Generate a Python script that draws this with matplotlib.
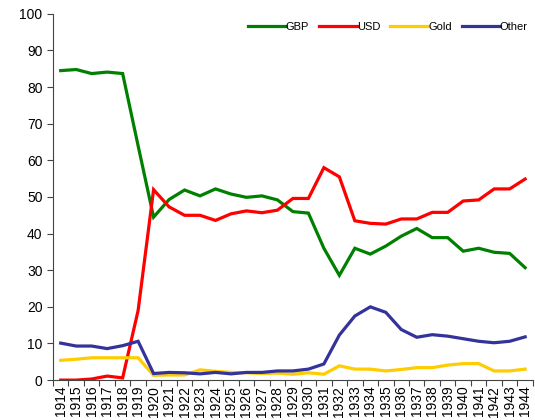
import numpy as np
import matplotlib.pyplot as plt

plt.rcParams['font.family'] = ['Liberation Sans', 'DejaVu Sans']

years = [str(y) for y in range(1914, 1945)]

gbp = [84.5, 84.8, 83.7, 84.1, 83.7, 64.0, 44.5, 49.3, 51.9, 50.3, 52.2, 50.8, 49.9, 50.3, 49.2, 46.0,
       45.6, 36.0, 28.6, 36.0, 34.4, 36.6, 39.3, 41.4, 38.9, 38.9, 35.2, 36.0, 34.9, 34.6, 30.7]
usd = [0.0, 0.0, 0.3, 1.1, 0.6, 19.0, 52.0, 47.3, 45.0, 45.0, 43.6, 45.4, 46.2, 45.7, 46.4, 49.6,
       49.6, 58.0, 55.5, 43.5, 42.8, 42.6, 44.0, 44.0, 45.8, 45.8, 48.9, 49.2, 52.2, 52.2, 54.9]
gold = [5.4, 5.7, 6.1, 6.1, 6.1, 6.1, 1.3, 1.4, 1.4, 2.8, 2.4, 2.1, 2.0, 1.8, 1.9, 1.6,
        2.0, 1.6, 3.9, 3.0, 3.0, 2.5, 2.9, 3.4, 3.4, 4.1, 4.5, 4.5, 2.5, 2.5, 3.0]
other = [10.1, 9.3, 9.3, 8.6, 9.4, 10.6, 1.8, 2.1, 2.0, 1.7, 2.1, 1.7, 2.1, 2.1, 2.5, 2.5,
         3.0, 4.4, 12.3, 17.5, 20.0, 18.5, 13.8, 11.7, 12.4, 12.0, 11.3, 10.6, 10.2, 10.6, 11.8]

series = [("GBP", gbp, "#008000"), ("USD", usd, "#FF0000"),
          ("Gold", gold, "#FFCC00"), ("Other", other, "#333399")]

fig = plt.figure(figsize=(5.35, 4.2), dpi=100)
ax = fig.add_axes([0.099, 0.095, 0.897, 0.872])

x = np.arange(len(years))
for name, vals, col in series:
    ax.plot(x, vals, color=col, lw=2.3, label=name, solid_joinstyle='miter')

ax.set_xlim(-0.5, len(years) - 0.5)
ax.set_ylim(0, 100)
ax.set_yticks(np.arange(0, 101, 10))
ax.set_xticks(x)
ax.set_xticklabels(years, rotation=90, fontsize=10)
ax.set_xticks(np.arange(-0.5, len(years), 1), minor=True)
ax.tick_params(axis='x', which='major', length=0, pad=4)
ax.tick_params(axis='x', which='minor', length=4, width=0.8, color='#444444')
ax.tick_params(axis='y', length=4, width=0.8, color='#444444', labelsize=10)

for s in ['top', 'right']:
    ax.spines[s].set_visible(False)
for s in ['left', 'bottom']:
    ax.spines[s].set_color('#444444')
    ax.spines[s].set_linewidth(0.8)

ax.legend(loc='upper right', bbox_to_anchor=(1.01, 1.005), ncol=4, frameon=False,
          fontsize=8, handlelength=3.4, handletextpad=0.0, columnspacing=0.9)

fig.savefig('out.png', dpi=100)
